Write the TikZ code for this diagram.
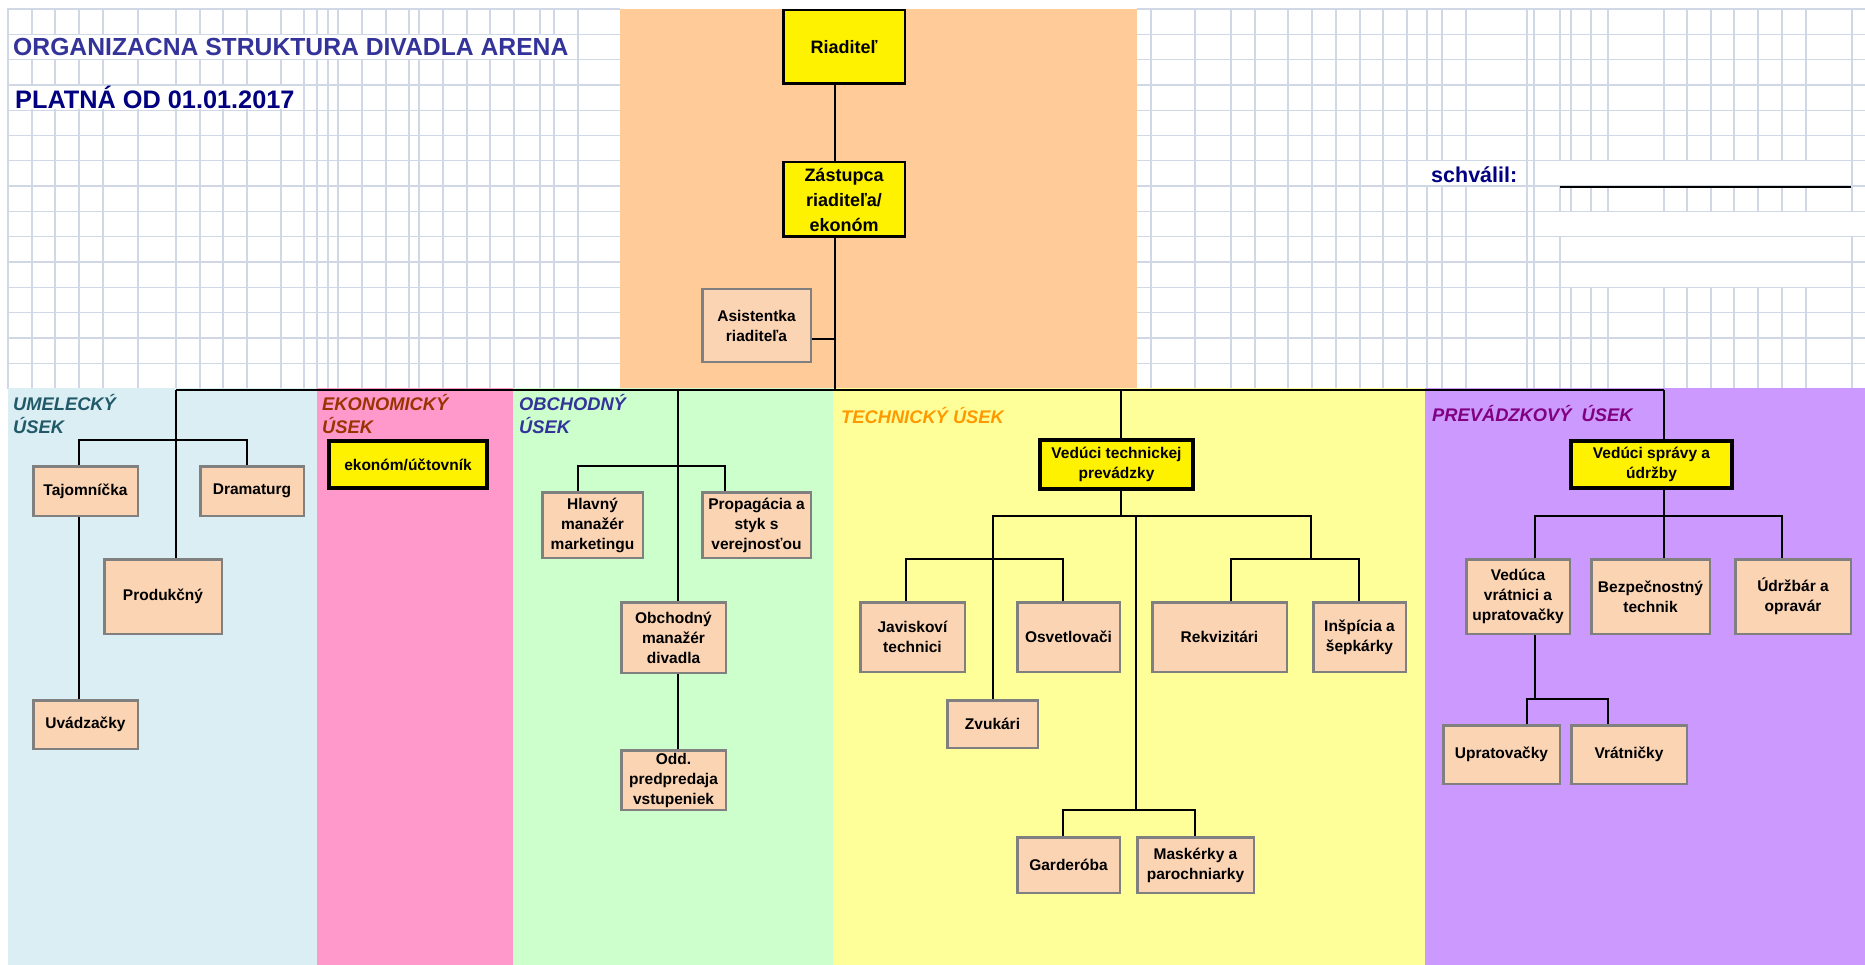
\documentclass[tikz,border=0pt]{standalone}
\usepackage{fontspec}
\setmainfont{Liberation Sans}
\usetikzlibrary{calc}

\definecolor{gridcol}{RGB}{208,216,230}
\definecolor{peachbg}{RGB}{255,204,153}
\definecolor{boxfill}{RGB}{251,212,180}
\definecolor{boxline}{RGB}{128,128,128}
\definecolor{umcol}{RGB}{218,238,243}
\definecolor{ekcol}{RGB}{255,153,204}
\definecolor{obcol}{RGB}{204,255,204}
\definecolor{tecol}{RGB}{255,255,153}
\definecolor{prcol}{RGB}{204,153,255}
\definecolor{umtext}{RGB}{33,89,104}
\definecolor{ektext}{RGB}{153,51,0}
\definecolor{obtext}{RGB}{51,51,153}
\definecolor{tetext}{RGB}{255,153,0}
\definecolor{prtext}{RGB}{128,0,128}
\definecolor{titlecol}{RGB}{51,51,153}
\definecolor{navy}{RGB}{0,0,128}

\begin{document}
\begin{tikzpicture}[x=1pt,y=-1pt,
  gridline/.style={draw=gridcol, line width=1.3},
  box/.style={draw=boxline, fill=boxfill, line width=2.5, align=center, inner sep=1,
    font=\bfseries\fontsize{15.5}{20}\selectfont},
  headbox/.style={box, draw=black, fill=yellow, line width=4},
  topbox/.style={headbox, line width=2.5, font=\bfseries\fontsize{18}{25}\selectfont},
  seclabel/.style={anchor=west, align=left, inner sep=0,
    font=\bfseries\itshape\fontsize{18.3}{23}\selectfont},
  link/.style={draw=black, line width=2.3}]

\useasboundingbox (0,0) rectangle (1865,965);
\fill[white] (0,0) rectangle (1865,965);

% sheet background
\fill[peachbg] (620,9) rectangle (1137,388);
\foreach \y in {0,...,15} {
  \draw[gridline] (7,{9+25.3*\y}) -- (620,{9+25.3*\y});
  \draw[gridline] (1137,{9+25.3*\y}) -- (1865,{9+25.3*\y});
}
\foreach \x in {8,32,55,79,103,138,176,200,223,247,281,304,317,328,338,362,386,409,419,443,467,490,514,540,554,578}
  \draw[gridline] (\x,9) -- (\x,388.5);
\foreach \x in {1151,1195,1231,1255,1288,1312,1336,1360,1383,1407,1427,1442,1466,1527,1534,1560,1571,1591,1608,1664,1687,1711,1734,1758,1782,1806,1852}
  \draw[gridline] (\x,9) -- (\x,388.5);
% merged cells
\fill[white] (8.7,35) rectangle (577.3,58.9);
\fill[white] (8.7,85.6) rectangle (303.3,109.5);
\fill[white] (1407.7,161.5) rectangle (1526.3,185.4);
\fill[white] (1534.7,161.5) rectangle (1851.3,185.4);
\fill[white] (1534.7,212.1) rectangle (1865,236);
\fill[white] (1560.7,237.4) rectangle (1851.3,261.3);
\fill[white] (1560.7,262.7) rectangle (1851.3,286.6);

% departments
\fill[umcol] (8,388) rectangle (317,965);
\fill[ekcol] (317,388) rectangle (513,965);
\fill[obcol] (513,388) rectangle (833,965);
\fill[tecol] (833,388) rectangle (1425,965);
\fill[prcol] (1425,388) rectangle (1865,965);

\node[anchor=west, inner sep=0, text=titlecol, font=\bfseries\fontsize{24.7}{28}\selectfont] (title) at (13,47) {ORGANIZACNA STRUKTURA DIVADLA ARENA};
\node[anchor=west, inner sep=0, text=navy, font=\bfseries\fontsize{25.3}{28}\selectfont] (date) at (15,97) {PLATNÁ OD 01.01.2017};
\node[anchor=west, inner sep=0, text=navy, font=\bfseries\fontsize{21.5}{24}\selectfont] (appr) at (1431,175) {schválil:};
\coordinate (signA) at (1560,187);
\coordinate (signB) at (1851,187);
\draw[line width=1.8] (signA) -- (signB);

\node[seclabel, text=umtext] (umlab) at (13,414.5) {UMELECKÝ\\ÚSEK};
\node[seclabel, text=ektext] (eklab) at (322,414.5) {EKONOMICKÝ\\ÚSEK};
\node[seclabel, text=obtext] (oblab) at (519,414.5) {OBCHODNÝ\\ÚSEK};
\node[seclabel, text=tetext] (telab) at (841,415.5) {TECHNICKÝ ÚSEK};
\node[seclabel, text=prtext] (prlab) at (1432,414) {PREVÁDZKOVÝ~~ÚSEK};

% management
\node[topbox, minimum width=121.5, minimum height=73.5] (riad) at (844,47) {Riaditeľ};
\node[topbox, minimum width=121.5, minimum height=74.5] (zast) at (844,199.5) {Zástupca\\riaditeľa/\\ekonóm};
\node[box, minimum width=108.5, minimum height=72.5] (asis) at (756.5,325.5) {Asistentka\\riaditeľa};

% umelecky
\node[box, minimum width=104.5, minimum height=49.5] (tajo) at (85.5,491) {Tajomníčka};
\node[box, minimum width=103.5, minimum height=49.5] (dram) at (252,491) {Dramaturg};
\node[box, minimum width=117.5, minimum height=74.5] (prod) at (163,596.5) {Produkčný};
\node[box, minimum width=104.5, minimum height=48.5] (uvad) at (85.5,724.5) {Uvádzačky};

% ekonomicky
\node[headbox, minimum width=158, minimum height=47] (ekon) at (408,464.5) {ekonóm/účtovník};

% obchodny
\node[box, minimum width=100.5, minimum height=65.5] (hlav) at (592.5,525) {Hlavný\\manažér\\marketingu};
\node[box, minimum width=108.5, minimum height=65.5] (prop) at (756.5,525) {Propagácia a\\styk s\\verejnosťou};
\node[box, minimum width=104.5, minimum height=70.5] (obch) at (673.5,637.5) {Obchodný\\manažér\\divadla};
\node[box, minimum width=104.5, minimum height=59.5] (odd) at (673.5,780) {Odd.\\predpredaja\\vstupeniek};

% technicky
\node[headbox, minimum width=153, minimum height=49] (vtech) at (1116.5,464.5) {Vedúci technickej\\prevádzky};
\node[box, minimum width=104.5, minimum height=69.5] (javi) at (912.5,637) {Javiskoví\\technici};
\node[box, minimum width=102.5, minimum height=69.5] (osve) at (1068.5,637) {Osvetlovači};
\node[box, minimum width=134.5, minimum height=69.5] (rekv) at (1219.5,637) {Rekvizitári};
\node[box, minimum width=92.5, minimum height=69.5] (insp) at (1359.5,637) {Inšpícia a\\šepkárky};
\node[box, minimum width=90.5, minimum height=47.5] (zvuk) at (992.5,724) {Zvukári};
\node[box, minimum width=102.5, minimum height=55.5] (gard) at (1068.5,865) {Garderóba};
\node[box, minimum width=116.5, minimum height=55.5] (mask) at (1195.5,865) {Maskérky a\\parochniarky};

% prevadzkovy
\node[headbox, minimum width=161, minimum height=47] (vspr) at (1651.5,464.5) {Vedúci správy a\\údržby};
\node[box, minimum width=103.5, minimum height=74.5] (vedu) at (1518,596.5) {Vedúca\\vrátnici a\\upratovačky};
\node[box, minimum width=118.5, minimum height=74.5] (bezp) at (1650.5,596.5) {Bezpečnostný\\technik};
\node[box, minimum width=115.5, minimum height=74.5] (udrz) at (1793,596.5) {Údržbár a\\opravár};
\node[box, minimum width=116.5, minimum height=58.5] (uprt) at (1501.5,754.5) {Upratovačky};
\node[box, minimum width=115.5, minimum height=58.5] (vrat) at (1629,754.5) {Vrátničky};

% connectors
\coordinate (trunk) at (835,390);
\coordinate (barL) at (176,390);
\coordinate (barR) at (1664,390);
\coordinate (asisJ) at (835,339);
\draw[link] (riad.south -| trunk) -- (zast.north -| trunk);
\draw[link] (zast.south -| trunk) -- (trunk);
\draw[link] (asis.east |- asisJ) -- (asisJ);
\draw[link] (barL) -- (barR);

\coordinate (umA) at (79,440);
\coordinate (umB) at (247,440);
\draw[link] (barL) -- (barL |- prod.north);
\draw[link] (umA |- tajo.north) -- (umA) -- (umB) -- (umB |- dram.north);
\draw[link] (umA |- tajo.south) -- (umA |- uvad.north);

\coordinate (obJ) at (678,390);
\coordinate (obA) at (578,466);
\coordinate (obB) at (725,466);
\draw[link] (obJ) -- (obJ |- obch.north);
\draw[link] (obA |- hlav.north) -- (obA) -- (obB) -- (obB |- prop.north);
\draw[link] (obJ |- obch.south) -- (obJ |- odd.north);

\coordinate (teJ) at (1121,390);
\coordinate (teA) at (993,516);
\coordinate (teB) at (1311,516);
\coordinate (teM) at (1136,516);
\coordinate (teC) at (906,559);
\coordinate (teD) at (1063,559);
\coordinate (teE) at (1231,559);
\coordinate (teF) at (1359,559);
\coordinate (teG) at (1063,810);
\coordinate (teK) at (1195,810);
\draw[link] (teJ) -- (teJ |- vtech.north);
\draw[link] (teJ |- vtech.south) -- (teJ |- teA);
\draw[link] (teA |- zvuk.north) -- (teA) -- (teB) -- (teB |- teE);
\draw[link] (teC |- javi.north) -- (teC) -- (teD) -- (teD |- osve.north);
\draw[link] (teE |- rekv.north) -- (teE) -- (teF) -- (teF |- insp.north);
\draw[link] (teM) -- (teM |- teG);
\draw[link] (teG |- gard.north) -- (teG) -- (teK) -- (teK |- mask.north);

\coordinate (prA) at (1535,516);
\coordinate (prB) at (1782,516);
\coordinate (prC) at (1527,699);
\coordinate (prD) at (1608,699);
\draw[link] (barR) -- (barR |- vspr.north);
\draw[link] (barR |- vspr.south) -- (barR |- bezp.north);
\draw[link] (prA |- vedu.north) -- (prA) -- (prB) -- (prB |- udrz.north);
\draw[link] (prA |- vedu.south) -- (prA |- prC);
\draw[link] (prC |- uprt.north) -- (prC) -- (prD) -- (prD |- vrat.north);

\end{tikzpicture}
\end{document}
